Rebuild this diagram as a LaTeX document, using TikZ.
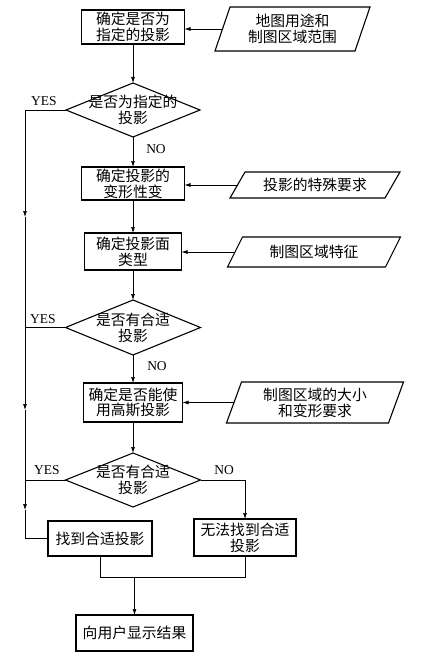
\documentclass[tikz,border=0pt]{standalone}
\usepackage{fontspec}
\setmainfont{Liberation Serif}
\newfontfamily\cjk{Noto Sans CJK SC}
\usetikzlibrary{shapes.geometric,arrows.meta}
\begin{document}
\begin{tikzpicture}[x=1pt,y=-1pt,
  cjkfont/.style={font=\cjk\fontsize{14.8}{15.8}\selectfont},
  box/.style={draw, line width=1.1pt, inner sep=0pt, outer sep=0pt, align=center, cjkfont},
  dia/.style={draw, diamond, line width=1.1pt, inner sep=0pt, outer sep=0pt},
  dtext/.style={align=center, inner sep=0pt, cjkfont},
  para/.style={inner sep=0pt, outer sep=0pt, align=center, cjkfont},
  pline/.style={line width=1.1pt},
  conn/.style={line width=0.7pt},
  arr/.style={conn, -{Latex[length=6pt,width=4pt]}},
  lab/.style={font=\fontsize{13.5}{13.5}\selectfont, inner sep=0pt}]
\useasboundingbox (0,0) rectangle (420,666);

% main column boxes
\node[box, minimum width=103pt, minimum height=34pt] (b1) at (133,27) {确定是否为\\指定的投影};
\node[box, minimum width=103pt, minimum height=33pt] (b2) at (133,183.5) {确定投影的\\变形性变};
\node[box, minimum width=97pt, minimum height=37pt] (b3) at (133,251.5) {确定投影面\\类型};
\node[box, minimum width=99pt, minimum height=39pt] (b4) at (133,402.5) {确定是否能使\\用高斯投影};
\node[box, minimum width=104pt, minimum height=35pt] (b5) at (100,538.5) {找到合适投影};
\node[box, minimum width=102pt, minimum height=37pt] (b6) at (245,537.5) {无法找到合适\\投影};
\node[box, minimum width=117pt, minimum height=36pt] (b7) at (134.5,633) {向用户显示结果};

% diamonds
\node[dia, minimum width=134pt, minimum height=54pt] (d1) at (133,110) {};
\node[dtext] (t1) at (d1) {是否为指定的\\投影};
\node[dia, minimum width=135pt, minimum height=55pt] (d2) at (133,327.5) {};
\node[dtext] (t2) at (d2) {是否有合适\\投影};
\node[dia, minimum width=135pt, minimum height=54pt] (d3) at (133,480) {};
\node[dtext] (t3) at (d3) {是否有合适\\投影};

% parallelograms
\node[para, minimum width=140pt, minimum height=44pt] (p1) at (292.5,29) {地图用途和\\制图区域范围};
\node[para, minimum width=155pt, minimum height=26pt] (p2) at (315,185) {投影的特殊要求};
\node[para, minimum width=158pt, minimum height=30pt] (p3) at (314,252) {制图区域特征};
\node[para, minimum width=162pt, minimum height=41pt] (p4) at (315,402.5) {制图区域的大小\\和变形要求};
\foreach \p in {p1,p2,p3,p4}{
  \draw[pline] ([xshift=7.5pt]\p.north west) -- ([xshift=7.5pt]\p.north east)
    -- ([xshift=-7.5pt]\p.south east) -- ([xshift=-7.5pt]\p.south west) -- cycle;
}

% inputs
\draw[arr] (p1.west) -- (p1.west -| b1.east);
\draw[arr] (p2.west) -- (p2.west -| b2.east);
\draw[arr] (p3.west) -- (p3.west -| b3.east);
\draw[arr] (p4.west) -- (p4.west -| b4.east);

% main flow
\draw[arr] (b1.south) -- (d1.north);
\draw[arr] (d1.south) -- (b2.north);
\draw[arr] (b2.south) -- (b3.north);
\draw[arr] (b3.south) -- (d2.north);
\draw[arr] (d2.south) -- (b4.north);
\draw[arr] (b4.south) -- (d3.north);
\draw[arr] (d3.east) -| (b6.north);

% left YES column
\coordinate (l0) at (25,110);
\coordinate (a1) at (25,217);
\coordinate (a2) at (25,410);
\coordinate (a3) at (25,510);
\draw[conn] (d1.west) -- (l0);
\draw[arr] (l0) -- (a1);
\draw[arr] (a1) -- (a2);
\draw[arr] (a2) -- (a3);
\draw[conn] (a3) -- (a3 |- b5.west) -- (b5.west);
\draw[conn] (d2.west) -- (d2.west -| l0);
\draw[conn] (d3.west) -- (d3.west -| l0);

% merge
\coordinate (m) at (133,577);
\draw[conn] (b5.south) -- (b5.south |- m) -- (b6.south |- m) -- (b6.south);
\draw[arr] (b7.north |- m) -- (b7.north);

% labels
\node[lab] (y1) at (44,101) {YES};
\node[lab] (y2) at (43,319) {YES};
\node[lab] (y3) at (47,470) {YES};
\node[lab] (n1) at (156,149) {NO};
\node[lab] (n2) at (157,366) {NO};
\node[lab] (n3) at (224,470) {NO};
\end{tikzpicture}
\end{document}
